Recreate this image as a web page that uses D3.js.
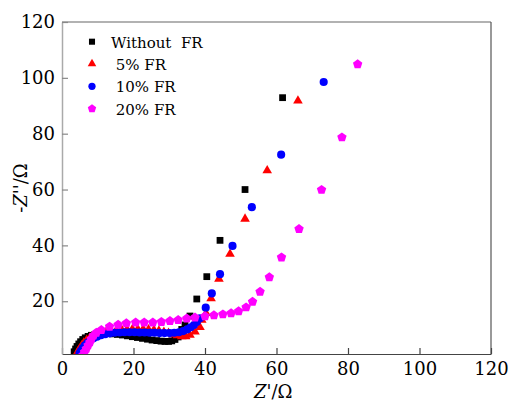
<!DOCTYPE html>
<html>
<head>
<meta charset="utf-8">
<script src="https://cdn.jsdelivr.net/npm/d3@7"></script>
<style>
  html, body { margin: 0; padding: 0; background: #fff; }
  svg { display: block; }
</style>
</head>
<body>
<svg id="chart" width="510" height="402"></svg>
<script>
// ---- data ----
const seriesNames = ["Without  FR", " 5% FR", " 10% FR", " 20% FR"];

const noFR_x = [3.4, 3.8, 4.2, 4.7, 5.2, 5.8, 6.5, 7.3, 8.2, 9.2, 10.3, 11.5, 12.8, 14.1, 15.5, 16.9, 18.3, 19.7, 21.1, 22.5, 23.9, 25.2, 26.5, 27.7, 28.8, 29.8, 30.7, 31.6, 32.5, 33.5, 34.4, 35.8, 37.7, 40.5, 44.2, 51.2, 61.7];
const noFR_y = [1.9, 2.9, 3.8, 4.7, 5.5, 6.3, 6.9, 7.4, 7.8, 8.1, 8.3, 8.4, 8.4, 8.3, 8.1, 7.9, 7.6, 7.3, 7.0, 6.7, 6.4, 6.1, 5.9, 5.7, 5.6, 5.6, 5.8, 6.3, 7.2, 9.9, 11.5, 14.7, 20.8, 28.8, 41.8, 60.0, 92.9];

const fr5_x = [4.0, 4.4, 4.9, 5.5, 6.1, 6.9, 7.8, 8.8, 9.9, 11.1, 12.4, 13.8, 15.2, 16.7, 18.2, 19.7, 21.2, 22.7, 24.2, 25.7, 27.1, 28.5, 29.8, 31.1, 32.3, 33.5, 34.6, 35.8, 37.2, 38.6, 39.1, 40.3, 41.7, 43.9, 47.0, 51.2, 57.4, 66.0];
const fr5_y = [0.8, 1.9, 3.0, 4.1, 5.1, 6.1, 6.9, 7.6, 8.2, 8.7, 9.1, 9.4, 9.6, 9.8, 9.9, 10.0, 10.0, 10.0, 9.9, 9.7, 9.4, 9.0, 8.6, 8.1, 7.7, 7.4, 7.4, 7.9, 9.1, 10.7, 13.3, 15.7, 21.0, 28.0, 36.9, 49.5, 66.8, 91.8];

const fr10_x = [4.9, 5.3, 5.8, 6.4, 7.1, 7.9, 8.8, 9.8, 10.9, 12.1, 13.4, 14.7, 16.1, 17.5, 18.9, 20.3, 21.7, 23.1, 24.5, 25.9, 27.3, 28.7, 30.1, 31.4, 32.7, 33.9, 35.0, 36.0, 36.9, 37.7, 38.6, 40.2, 41.9, 44.2, 47.7, 53.1, 61.3, 73.2];
const fr10_y = [1.3, 2.2, 3.2, 4.2, 5.1, 5.9, 6.7, 7.3, 7.8, 8.2, 8.5, 8.7, 8.8, 8.9, 8.9, 8.9, 8.8, 8.8, 8.7, 8.7, 8.6, 8.6, 8.6, 8.7, 8.9, 9.3, 9.9, 10.7, 11.5, 12.6, 13.9, 17.7, 22.8, 29.7, 39.8, 53.7, 72.5, 98.5];

const fr20_x = [5.9, 6.3, 6.8, 7.3, 7.8, 8.2, 8.8, 9.6, 11.0, 13.3, 15.7, 18.0, 20.6, 23.0, 25.4, 27.8, 30.2, 32.5, 34.9, 37.2, 40.0, 42.5, 45.0, 47.3, 49.4, 51.5, 53.3, 55.4, 58.0, 61.4, 66.3, 72.6, 78.3, 82.7];
const fr20_y = [0.7, 1.8, 3.0, 4.2, 5.3, 6.5, 7.7, 8.7, 9.7, 10.9, 11.6, 12.1, 12.4, 12.4, 12.4, 12.6, 12.9, 13.3, 13.8, 14.2, 14.6, 15.0, 15.3, 15.7, 16.4, 17.8, 19.8, 23.4, 28.6, 35.7, 45.9, 59.9, 78.7, 104.9];

const xTicks = [0, 20, 40, 60, 80, 100, 120];
const yTicks = [20, 40, 60, 80, 100, 120];

// ---- layout ----
const SERIF = "'DejaVu Serif', serif";
const svg = d3.select("#chart").attr("font-family", SERIF);
const L = 62, R = 491, T = 22, B = 354;
const x = d3.scaleLinear().domain([0, 120]).range([L, R]);
const y = d3.scaleLinear().domain([1.1, 120]).range([B, T]);

// pentagon symbol type
const symbolPentagon = {
  draw(ctx, size) {
    const r = Math.sqrt(size / 2.3776);
    for (let i = 0; i < 5; i++) {
      const a = -Math.PI / 2 + i * 2 * Math.PI / 5;
      const px = r * Math.cos(a), py = r * Math.sin(a);
      if (i === 0) ctx.moveTo(px, py); else ctx.lineTo(px, py);
    }
    ctx.closePath();
  }
};

const series = [
  { name: seriesNames[0], xs: noFR_x, ys: noFR_y, color: "#000000", type: d3.symbolSquare, size: 46 },
  { name: seriesNames[1], xs: fr5_x, ys: fr5_y, color: "#ff0000", type: d3.symbolTriangle, size: 40 },
  { name: seriesNames[2], xs: fr10_x, ys: fr10_y, color: "#0000ff", type: d3.symbolCircle, size: 52 },
  { name: seriesNames[3], xs: fr20_x, ys: fr20_y, color: "#ff00ff", type: symbolPentagon, size: 58 }
];

// frame
svg.append("line").attr("x1", L).attr("x2", R).attr("y1", T).attr("y2", T).attr("stroke", "#666").attr("stroke-width", 1.2);
svg.append("line").attr("x1", R).attr("x2", R).attr("y1", T).attr("y2", B).attr("stroke", "#555").attr("stroke-width", 1.2);

const plot = svg.append("g");
plot.append("clipPath").attr("id", "clip").append("rect")
  .attr("x", L).attr("y", T).attr("width", R - L).attr("height", B - T);

const marks = plot.append("g").attr("clip-path", "url(#clip)");
series.forEach(s => {
  const sym = d3.symbol().type(s.type).size(s.size);
  marks.append("g").selectAll("path")
    .data(s.xs.map((v, i) => [v, s.ys[i]]))
    .join("path")
    .attr("d", sym)
    .attr("transform", d => `translate(${x(d[0])},${y(d[1])})`)
    .attr("fill", s.color);
});

// axes
const xAxis = d3.axisBottom(x).tickValues(xTicks).tickSizeInner(-6).tickSizeOuter(0).tickPadding(8);
const gx = svg.append("g").attr("transform", `translate(0,${B})`).call(xAxis);
gx.attr("font-family", SERIF).attr("font-size", 18);
gx.select(".domain").attr("stroke", "#444").attr("stroke-width", 1.2);
gx.selectAll(".tick line").attr("stroke", "#444").attr("stroke-width", 1.2);
gx.selectAll(".tick text").attr("fill", "#000");

const yAxis = d3.axisLeft(y).tickValues(yTicks).tickSizeInner(-6).tickSizeOuter(0).tickPadding(7);
const gy = svg.append("g").attr("transform", `translate(${L},0)`).call(yAxis);
gy.attr("font-family", SERIF).attr("font-size", 18);
gy.select(".domain").attr("stroke", "#aaa").attr("stroke-width", 1.5);
gy.selectAll(".tick line").attr("stroke", "#888").attr("stroke-width", 1.2);
gy.selectAll(".tick text").attr("fill", "#000");

// axis titles
const xt = svg.append("text").attr("x", 254).attr("y", 398).attr("font-size", 18);
xt.append("tspan").attr("font-style", "italic").text("Z");
xt.append("tspan").text("'/Ω");

const yt = svg.append("text").attr("transform", "translate(27,188) rotate(-90)").attr("text-anchor", "middle").attr("font-size", 18);
yt.append("tspan").text("-");
yt.append("tspan").attr("font-style", "italic").text("Z");
yt.append("tspan").text("''/Ω");

// legend
const lg = svg.append("g");
const rowY = [41.7, 63.8, 86.3, 108.7];
series.forEach((s, i) => {
  lg.append("path")
    .attr("d", d3.symbol().type(s.type).size(s.size * 0.8)())
    .attr("transform", `translate(92,${rowY[i]})`)
    .attr("fill", s.color);
  lg.append("text")
    .attr("x", 111).attr("y", rowY[i] + 6)
    .attr("font-size", 15)
    .style("white-space", "pre")
    .text(s.name);
});
</script>
</body>
</html>
